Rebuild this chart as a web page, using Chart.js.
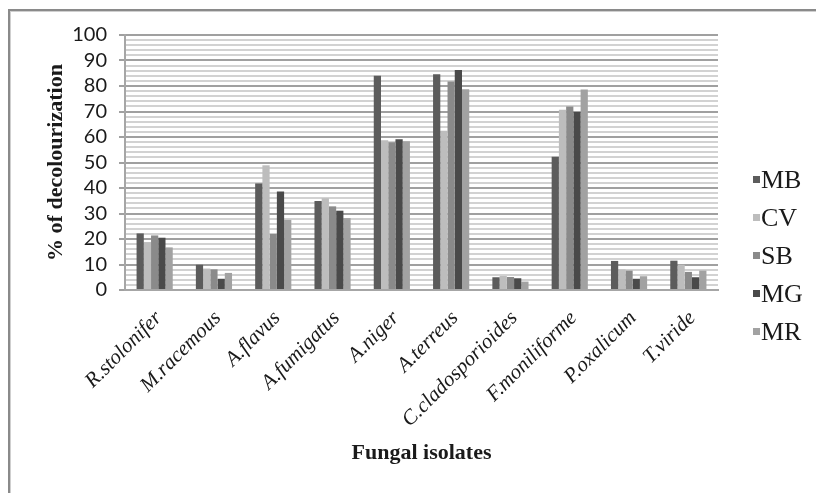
<!DOCTYPE html>
<html>
<head>
<meta charset="utf-8">
<script src="https://cdn.jsdelivr.net/npm/chart.js@4/dist/chart.umd.min.js"></script>
<style>
  html, body { margin: 0; padding: 0; background: #fff; overflow: hidden; }
  #wrap { position: relative; width: 816px; height: 493px; }
  #frame { position: absolute; left: 8px; top: 9px; width: 900px; height: 600px;
           border-left: 2px solid #8a8a8a; border-top: 2px solid #8a8a8a;
           box-shadow: inset 1px 1px 0 #cfcfcf; }
  canvas { position: absolute; left: 0; top: 0; }
</style>
</head>
<body>
<div id="wrap">
  <div id="frame"></div>
  <canvas id="decolChart" width="816" height="493"></canvas>
</div>
<script>
const categories = ['R.stolonifer', 'M.racemous', 'A.flavus', 'A.fumigatus', 'A.niger',
  'A.terreus', 'C.cladosporioides', 'F.moniliforme', 'P.oxalicum', 'T.viride'];

const MB = [22.2, 9.9, 41.8, 34.9, 84.0, 84.6, 5.0, 52.3, 11.4, 11.5];
const CV = [18.8, 8.4, 48.9, 36.0, 58.7, 62.5, 5.5, 70.7, 8.1, 9.9];
const SB = [21.4, 8.1, 22.0, 32.8, 57.9, 81.8, 5.1, 72.0, 7.6, 7.1];
const MG = [20.5, 4.4, 38.6, 31.1, 59.1, 86.3, 4.6, 69.8, 4.4, 5.0];
const MR = [16.7, 6.7, 27.5, 28.2, 58.3, 78.7, 3.3, 78.6, 5.4, 7.6];

const seriesNames = ['MB', 'CV', 'SB', 'MG', 'MR'];
const seriesColors = ['#5c5c5c', '#bdbdbd', '#8a8a8a', '#4a4a4a', '#a2a2a2'];

const yTitle = '% of decolourization';
const xTitle = 'Fungal isolates';

const serif = '"Liberation Serif", "Times New Roman", serif';

// legend drawn by hand so it sits where the original puts it
const sideLegend = {
  id: 'sideLegend',
  afterDraw(chart) {
    const ctx = chart.ctx;
    ctx.save();
    ctx.font = '26px ' + serif;
    ctx.textBaseline = 'middle';
    ctx.textAlign = 'left';
    chart.data.datasets.forEach((ds, i) => {
      const y = 180 + i * 38;
      ctx.fillStyle = ds.backgroundColor;
      ctx.fillRect(753, y - 4, 7, 7);
      ctx.fillStyle = '#1a1a1a';
      ctx.fillText(ds.label, 761, y + 1);
    });
    ctx.restore();
  }
};

const sets = [MB, CV, SB, MG, MR].map((d, i) => ({
  label: seriesNames[i],
  data: d,
  backgroundColor: seriesColors[i],
  borderWidth: 0,
  categoryPercentage: 0.61,
  barPercentage: 1.0
}));

new Chart(document.getElementById('decolChart'), {
  type: 'bar',
  data: { labels: categories, datasets: sets },
  options: {
    responsive: false,
    animation: false,
    layout: { padding: { left: 0, top: 35, right: 98, bottom: 0 } },
    plugins: {
      legend: { display: false },
      tooltip: { enabled: false }
    },
    scales: {
      x: {
        grid: { display: false, drawTicks: false },
        border: { display: true, color: '#a6a6a6', width: 2 },
        ticks: {
          color: '#1a1a1a',
          font: { family: serif, size: 21, style: 'italic' },
          maxRotation: 45,
          minRotation: 45,
          autoSkip: false,
          padding: 16,
          labelOffset: 4
        },
        title: {
          display: true,
          text: xTitle,
          color: '#1a1a1a',
          font: { family: serif, size: 22, weight: 'bold' },
          padding: { top: 0, bottom: 26 }
        },
        afterFit(scale) { scale.height = 203; }
      },
      y: {
        min: 0,
        max: 100,
        grid: {
          color: c => (c.tick && c.tick.value % 10 === 0) ? '#a0a0a0' : '#d2d2d2',
          lineWidth: 2,
          tickLength: 6,
          tickColor: c => (c.tick && c.tick.value % 10 === 0) ? '#a0a0a0' : 'rgba(0,0,0,0)'
        },
        border: { display: true, color: '#a6a6a6', width: 2 },
        ticks: {
          stepSize: 2,
          autoSkip: false,
          color: '#1a1a1a',
          font: { family: 'Lato, "Open Sans", sans-serif', size: 20 },
          padding: 12,
          callback: v => (v % 10 === 0 ? v : '')
        },
        title: {
          display: true,
          text: yTitle,
          color: '#1a1a1a',
          font: { family: serif, size: 22, weight: 'bold' },
          padding: { top: 43, bottom: 0 }
        },
        afterFit(scale) { scale.width = 125; }
      }
    }
  },
  plugins: [sideLegend]
});
</script>
</body>
</html>
